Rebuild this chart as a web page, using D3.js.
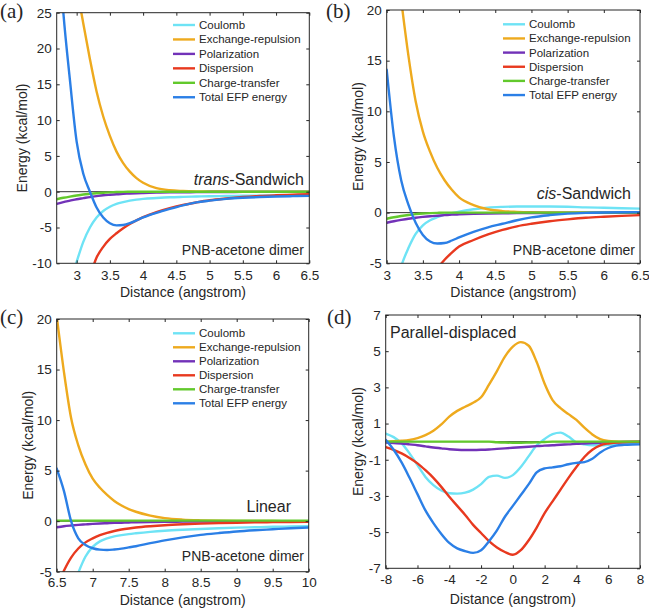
<!DOCTYPE html>
<html><head><meta charset="utf-8">
<script src="https://cdn.jsdelivr.net/npm/d3@7"></script>
<style>
body{margin:0;background:#fff}
svg{display:block}
text{font-family:"Liberation Sans",Arial,Helvetica,sans-serif;fill:#262626}
</style>
</head><body>
<svg id="chart" width="649" height="612"></svg>
<script>
// ---------- DATA ----------
const seriesNames = ["Coulomb","Exchange-repulsion","Polarization","Dispersion","Charge-transfer","Total EFP energy"];
const seriesColors = ["#6ee3f5","#eeaa1e","#7232b8","#e8391f","#62c92c","#2b7fe6"];

// (a) trans-Sandwich
const distA = [2.7,2.8,2.9,3.0,3.1,3.2,3.3,3.4,3.5,3.6,3.7,3.8,3.9,4.0,4.2,4.4,4.6,4.8,5.0,5.25,5.5,5.75,6.0,6.25,6.5];
const coulombA = [-22,-17,-13,-9.8,-7.0,-5.0,-3.6,-2.7,-2.1,-1.7,-1.45,-1.25,-1.1,-1.0,-0.88,-0.78,-0.72,-0.67,-0.63,-0.6,-0.57,-0.55,-0.53,-0.51,-0.5];
const exchangeA = [70,50,37,29,23.5,18.5,14,10.5,7.8,5.6,4.0,2.8,1.9,1.25,0.5,0.2,0.1,0.05,0.03,0.02,0.01,0.01,0,0,0];
const polarizationA = [-1.7,-1.45,-1.25,-1.05,-0.9,-0.75,-0.62,-0.5,-0.42,-0.35,-0.3,-0.25,-0.21,-0.18,-0.13,-0.1,-0.08,-0.06,-0.05,-0.04,-0.03,-0.03,-0.02,-0.02,-0.02];
const dispersionA = [-33,-27,-22,-18,-14.5,-11.8,-9.2,-7.7,-6.6,-5.8,-5.1,-4.5,-4.0,-3.55,-2.85,-2.3,-1.85,-1.5,-1.2,-0.95,-0.75,-0.6,-0.5,-0.42,-0.35];
const chargeA = [-1.05,-0.85,-0.68,-0.53,-0.4,-0.3,-0.21,-0.14,-0.09,-0.05,-0.03,-0.01,0,0,0,0,0,0,0,0,0,0,0,0,0];
const totalA = [38,25,15.5,7.0,2.5,0.0,-2.2,-3.6,-4.4,-4.7,-4.65,-4.4,-4.0,-3.6,-2.95,-2.4,-1.9,-1.5,-1.25,-1.0,-0.85,-0.75,-0.68,-0.62,-0.58];
const xTicksA = [3,3.5,4,4.5,5,5.5,6,6.5];
const yTicksA = [-10,-5,0,5,10,15,20,25];

// (b) cis-Sandwich
const distB = [3.0,3.1,3.2,3.3,3.4,3.5,3.6,3.7,3.8,3.9,4.0,4.2,4.4,4.6,4.8,5.0,5.25,5.5,5.75,6.0,6.25,6.5];
const coulombB = [-12,-8,-5.3,-3.5,-2.1,-1.25,-0.75,-0.45,-0.2,-0.05,0.1,0.33,0.5,0.57,0.6,0.6,0.6,0.58,0.52,0.48,0.44,0.4];
const exchangeB = [38,27,21,15.5,11,8.0,6.0,4.4,3.2,2.25,1.5,0.75,0.33,0.15,0.08,0.04,0.02,0.01,0.01,0,0,0];
const polarizationB = [-1.0,-0.85,-0.72,-0.6,-0.5,-0.42,-0.35,-0.3,-0.25,-0.2,-0.17,-0.12,-0.09,-0.07,-0.05,-0.04,-0.03,-0.02,-0.02,-0.01,-0.01,-0.01];
const dispersionB = [-20,-16,-13,-10.8,-9,-7.6,-6.5,-5.5,-4.65,-3.95,-3.35,-2.7,-2.15,-1.7,-1.35,-1.1,-0.85,-0.66,-0.5,-0.4,-0.32,-0.25];
const chargeB = [-0.6,-0.45,-0.33,-0.23,-0.15,-0.09,-0.05,-0.02,0,0,0,0,0,0,0,0,0,0,0,0,0,0];
const totalB = [14.1,7.5,3.2,0.8,-1.0,-2.2,-2.85,-3.05,-3.0,-2.75,-2.45,-1.9,-1.45,-1.1,-0.75,-0.47,-0.25,-0.1,-0.02,0.02,0.04,0.05];
const xTicksB = [3,3.5,4,4.5,5,5.5,6,6.5];
const yTicksB = [-5,0,5,10,15,20];

// (c) Linear
const distC = [6.5,6.6,6.7,6.8,6.9,7.0,7.1,7.2,7.3,7.4,7.5,7.6,7.8,8.0,8.25,8.5,8.75,9.0,9.25,9.5,9.75,10.0];
const coulombC = [-14,-10,-7,-5.1,-3.5,-2.55,-2.0,-1.7,-1.5,-1.38,-1.28,-1.2,-1.06,-0.95,-0.85,-0.77,-0.7,-0.64,-0.6,-0.56,-0.53,-0.5];
const exchangeC = [20.3,14.8,10.2,7.5,5.6,4.2,3.3,2.6,2.0,1.55,1.2,0.93,0.55,0.3,0.15,0.08,0.04,0.02,0.01,0.01,0,0];
const polarizationC = [-0.6,-0.5,-0.43,-0.37,-0.32,-0.27,-0.23,-0.2,-0.17,-0.15,-0.13,-0.11,-0.08,-0.06,-0.05,-0.04,-0.03,-0.02,-0.02,-0.01,-0.01,-0.01];
const dispersionC = [-6.5,-4.9,-3.6,-2.7,-2.1,-1.7,-1.38,-1.15,-0.97,-0.83,-0.72,-0.63,-0.5,-0.4,-0.31,-0.24,-0.19,-0.15,-0.12,-0.1,-0.08,-0.07];
const chargeC = [0.05,0.05,0.05,0.05,0.05,0.05,0.05,0.05,0.05,0.05,0.05,0.05,0.05,0.05,0.05,0.05,0.05,0.05,0.05,0.05,0.05,0.05];
const totalC = [5.2,3.0,0.0,-1.7,-2.35,-2.68,-2.82,-2.85,-2.8,-2.72,-2.6,-2.48,-2.18,-1.9,-1.6,-1.36,-1.18,-1.02,-0.9,-0.8,-0.7,-0.62];
const xTicksC = [6.5,7,7.5,8,8.5,9,9.5,10];
const yTicksC = [-5,0,5,10,15,20];

// (d) Parallel-displaced
const distD = [-8,-7.5,-7,-6.5,-6,-5.5,-5,-4.5,-4,-3.5,-3,-2.5,-2,-1.5,-1,-0.5,0,0.5,1,1.5,2,2.5,3,3.5,4,4.5,5,5.5,6,6.5,7,7.5,8];
const coulombD = [0.45,0.25,-0.1,-0.65,-1.3,-1.95,-2.4,-2.7,-2.85,-2.87,-2.82,-2.65,-2.35,-1.95,-1.88,-2.0,-1.85,-1.4,-0.8,-0.2,0.15,0.42,0.5,0.28,-0.05,-0.15,-0.2,-0.2,-0.18,-0.15,-0.13,-0.12,-0.12];
const exchangeD = [0,0.02,0.05,0.1,0.2,0.36,0.6,0.95,1.38,1.7,1.93,2.15,2.45,3.15,3.9,4.7,5.25,5.5,5.3,4.4,3.2,2.3,1.85,1.52,1.2,0.77,0.4,0.14,0.04,0.01,0,0,0];
const polarizationD = [-0.05,-0.08,-0.1,-0.15,-0.2,-0.26,-0.32,-0.37,-0.42,-0.45,-0.46,-0.46,-0.45,-0.43,-0.4,-0.37,-0.34,-0.31,-0.28,-0.25,-0.22,-0.2,-0.17,-0.15,-0.12,-0.1,-0.08,-0.06,-0.04,-0.03,-0.02,-0.01,0];
const dispersionD = [-0.3,-0.45,-0.65,-0.9,-1.2,-1.58,-2.0,-2.5,-3.05,-3.55,-4.05,-4.6,-5.05,-5.5,-5.85,-6.1,-6.25,-6.0,-5.45,-4.75,-3.95,-3.3,-2.65,-2.0,-1.4,-0.85,-0.45,-0.2,-0.1,-0.05,-0.03,-0.02,-0.02];
const chargeD = [0,0,0,0,0,0,0,0,0,0,0,0,0,0,-0.03,-0.05,-0.06,-0.06,-0.05,-0.04,-0.02,0,0,0,0,0,0,0,0,0,0,0,0];
const totalD = [0.1,-0.45,-1.15,-2.0,-2.9,-3.8,-4.5,-5.1,-5.6,-5.9,-6.05,-6.15,-6.0,-5.5,-4.9,-4.15,-3.55,-2.95,-2.35,-1.7,-1.48,-1.42,-1.36,-1.25,-1.17,-1.13,-0.95,-0.6,-0.35,-0.22,-0.18,-0.16,-0.15];
const xTicksD = [-8,-6,-4,-2,0,2,4,6,8];
const yTicksD = [-7,-5,-3,-1,1,3,5,7];

const xLabel = "Distance (angstrom)";
const yLabel = "Energy (kcal/mol)";

// ---------- LAYOUT ----------
const panels = [
  {id:"a", letter:"(a)", letterPos:[0,18], x:distA, series:[coulombA,exchangeA,polarizationA,dispersionA,chargeA,totalA],
   xDomain:[2.7,6.5], yDomain:[-10,25], xTicks:xTicksA, yTicks:yTicksA,
   box:{l:56.7,r:309.3,t:12.7,b:263.3}, yLabelOff:30, xLabelY:297, tickPad:7,
   legend:{x1:173,x2:195,tx:199,y0:25,dy:14.45},
   notes:[{parts:[["trans",true],["-Sandwich",false]],x:304,y:185,size:16,anchor:"end"},
          {parts:[["PNB-acetone dimer",false]],x:304,y:255,size:14,anchor:"end"}]},
  {id:"b", letter:"(b)", letterPos:[326,18], x:distB, series:[coulombB,exchangeB,polarizationB,dispersionB,chargeB,totalB],
   xDomain:[3,6.5], yDomain:[-5,20], xTicks:xTicksB, yTicks:yTicksB,
   box:{l:386.7,r:640,t:10,b:263.3}, yLabelOff:24, xLabelY:297, tickPad:7,
   legend:{x1:503,x2:525,tx:529,y0:24.3,dy:14.15},
   notes:[{parts:[["cis",true],["-Sandwich",false]],x:631,y:199,size:16,anchor:"end"},
          {parts:[["PNB-acetone dimer",false]],x:635,y:255,size:14,anchor:"end"}]},
  {id:"c", letter:"(c)", letterPos:[0,324], x:distC, series:[coulombC,exchangeC,polarizationC,dispersionC,chargeC,totalC],
   xDomain:[6.5,10], yDomain:[-5,20], xTicks:xTicksC, yTicks:yTicksC,
   box:{l:56.7,r:308.7,t:319,b:571.7}, yLabelOff:24, xLabelY:604.5, tickPad:6,
   legend:{x1:173,x2:195,tx:199,y0:333.3,dy:14},
   notes:[{parts:[["Linear",false]],x:291,y:512,size:16,anchor:"end"},
          {parts:[["PNB-acetone dimer",false]],x:304,y:561,size:14,anchor:"end"}]},
  {id:"d", letter:"(d)", letterPos:[327,324], x:distD, series:[coulombD,exchangeD,polarizationD,dispersionD,chargeD,totalD],
   xDomain:[-8,8], yDomain:[-7,7], xTicks:xTicksD, yTicks:yTicksD,
   box:{l:385.7,r:640,t:315,b:568.3}, yLabelOff:23, xLabelY:604, tickPad:6,
   legend:null,
   notes:[{parts:[["Parallel-displaced",false]],x:390,y:338,size:16,anchor:"start"}]}
];

const ink = "#262626";
const svg = d3.select("#chart");
svg.append("rect").attr("width",649).attr("height",612).attr("fill","#fff");
const defs = svg.append("defs");
const fmt = d => String(d);

panels.forEach(p => {
  const b = p.box;
  const g = svg.append("g");
  const x = d3.scaleLinear().domain(p.xDomain).range([b.l, b.r]);
  const y = d3.scaleLinear().domain(p.yDomain).range([b.b, b.t]);

  defs.append("clipPath").attr("id","clip-"+p.id)
    .append("rect").attr("x",b.l).attr("y",b.t).attr("width",b.r-b.l).attr("height",b.b-b.t);

  const plot = g.append("g").attr("clip-path",`url(#clip-${p.id})`);
  plot.append("line").attr("x1",b.l).attr("x2",b.r).attr("y1",y(0)).attr("y2",y(0))
    .attr("stroke","#333").attr("stroke-width",1);

  const line = d3.line().x((d,i)=>x(p.x[i])).y(d=>y(d)).curve(d3.curveMonotoneX);
  p.series.forEach((s,k) => {
    plot.append("path").datum(s).attr("d",line).attr("fill","none")
      .attr("stroke",seriesColors[k]).attr("stroke-width",2.4)
      .attr("stroke-linejoin","round").attr("stroke-linecap","round");
  });

  const styleAxis = sel => {
    sel.select(".domain").remove();
    sel.selectAll(".tick line").attr("stroke",ink);
    sel.selectAll(".tick text").attr("fill",ink).attr("font-size",13.5)
      .attr("font-family","'Liberation Sans',Arial,Helvetica,sans-serif");
    sel.attr("font-family",null).attr("font-size",null);
  };
  g.append("g").attr("transform",`translate(0,${b.b})`)
    .call(d3.axisBottom(x).tickValues(p.xTicks).tickFormat(fmt).tickSizeInner(-3).tickSizeOuter(0).tickPadding(p.tickPad)).call(styleAxis);
  g.append("g").attr("transform",`translate(0,${b.t})`)
    .call(d3.axisTop(x).tickValues(p.xTicks).tickFormat("").tickSizeInner(-3).tickSizeOuter(0)).call(styleAxis);
  g.append("g").attr("transform",`translate(${b.l},0)`)
    .call(d3.axisLeft(y).tickValues(p.yTicks).tickFormat(fmt).tickSizeInner(-3).tickSizeOuter(0).tickPadding(5)).call(styleAxis);
  g.append("g").attr("transform",`translate(${b.r},0)`)
    .call(d3.axisRight(y).tickValues(p.yTicks).tickFormat("").tickSizeInner(-3).tickSizeOuter(0)).call(styleAxis);

  g.append("rect").attr("x",b.l).attr("y",b.t).attr("width",b.r-b.l).attr("height",b.b-b.t)
    .attr("fill","none").attr("stroke",ink).attr("stroke-width",1);

  // axis labels
  g.append("text").attr("x",(b.l+b.r)/2).attr("y",p.xLabelY).attr("text-anchor","middle")
    .attr("font-size",14).text(xLabel);
  g.append("text").attr("transform",`translate(${b.l-p.yLabelOff},${(b.t+b.b)/2}) rotate(-90)`)
    .attr("text-anchor","middle").attr("font-size",14).text(yLabel);

  // panel letter
  g.append("text").attr("x",p.letterPos[0]).attr("y",p.letterPos[1])
    .style("font-family","'Liberation Serif','Times New Roman',serif")
    .attr("font-size",21).attr("fill","#111").text(p.letter);

  // notes
  p.notes.forEach(n => {
    const t = g.append("text").attr("x",n.x).attr("y",n.y).attr("font-size",n.size).attr("text-anchor",n.anchor).attr("fill","#111");
    n.parts.forEach(([s,it]) => t.append("tspan").attr("font-style",it?"italic":"normal").text(s));
  });

  // legend
  if (p.legend) {
    const L = p.legend;
    seriesNames.forEach((name,k) => {
      const yy = L.y0 + k*L.dy;
      g.append("line").attr("x1",L.x1).attr("x2",L.x2).attr("y1",yy).attr("y2",yy)
        .attr("stroke",seriesColors[k]).attr("stroke-width",2.4);
      g.append("text").attr("x",L.tx).attr("y",yy).attr("dy","0.35em").attr("font-size",11.5)
        .attr("fill","#111").text(name);
    });
  }
});
</script>
</body></html>
